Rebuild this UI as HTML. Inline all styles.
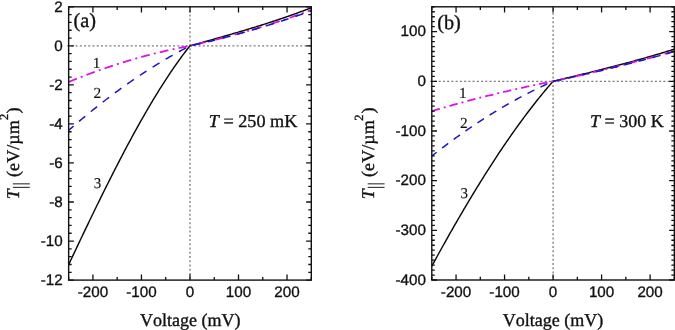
<!DOCTYPE html>
<html><head><meta charset="utf-8"><style>
html,body{margin:0;padding:0;background:#fff;}
svg{display:block;will-change:transform;opacity:0.999}
.ax{fill:none;stroke:#111;stroke-width:1.4}
.tk{fill:none;stroke:#111;stroke-width:1.3}
.dot{stroke:#7a7a7a;stroke-width:1.3;stroke-dasharray:2 2.24;fill:none}
.c1{fill:none;stroke:#dc12e0;stroke-width:1.8;stroke-dasharray:8.8 4.2 2 4.2;stroke-linejoin:round}
.c2{fill:none;stroke:#1c14c4;stroke-width:1.5;stroke-dasharray:8 7.25;stroke-dashoffset:1.5;stroke-linejoin:round}
.c1.b{stroke-dasharray:8.4 4.05 1.95 4.05}
.c2.b{stroke-dasharray:7.7 6.8;stroke-dashoffset:1.5}
.c3{fill:none;stroke:#0a0a0a;stroke-width:1.45;stroke-linejoin:round}
text{stroke:#111;stroke-width:0.35px;font-kerning:none;text-rendering:geometricPrecision}
.tl{font-family:"Liberation Sans",sans-serif;font-size:15.2px;fill:#111}
.lb{font-family:"Liberation Serif",serif;font-size:18px;fill:#111}
.nm{font-family:"Liberation Serif",serif;font-size:15.3px;fill:#111;stroke-width:0.15px}
.pl{font-family:"Liberation Serif",serif;font-size:20.3px;fill:#111}
</style></head><body>
<svg width="675" height="330" viewBox="0 0 675 330">
<rect width="675" height="330" fill="#fff"/>
<line x1="67.05" y1="45.84" x2="311.30" y2="45.84" class="dot"/>
<line x1="189.98" y1="6.80" x2="189.98" y2="280.10" class="dot" stroke-dashoffset="0.9"/>
<polyline points="68.65,264.67 69.62,262.61 70.59,260.55 71.56,258.49 72.53,256.43 73.50,254.38 74.47,252.32 75.44,250.27 76.41,248.22 77.39,246.17 78.36,244.12 79.33,242.08 80.30,240.04 81.27,238.00 82.24,235.96 83.21,233.93 84.18,231.90 85.15,229.87 86.12,227.85 87.09,225.82 88.06,223.81 89.03,221.79 90.00,219.78 90.97,217.77 91.94,215.76 92.92,213.76 93.89,211.76 94.86,209.76 95.83,207.77 96.80,205.78 97.77,203.80 98.74,201.82 99.71,199.84 100.68,197.87 101.65,195.91 102.62,193.94 103.59,191.98 104.56,190.03 105.53,188.08 106.50,186.14 107.47,184.20 108.44,182.26 109.42,180.33 110.39,178.40 111.36,176.48 112.33,174.57 113.30,172.66 114.27,170.76 115.24,168.86 116.21,166.96 117.18,165.08 118.15,163.19 119.12,161.32 120.09,159.45 121.06,157.58 122.03,155.73 123.00,153.87 123.97,152.03 124.94,150.19 125.92,148.36 126.89,146.53 127.86,144.71 128.83,142.90 129.80,141.09 130.77,139.29 131.74,137.50 132.71,135.71 133.68,133.93 134.65,132.16 135.62,130.40 136.59,128.64 137.56,126.89 138.53,125.15 139.50,123.41 140.47,121.69 141.44,119.97 142.42,118.26 143.39,116.55 144.36,114.86 145.33,113.17 146.30,111.49 147.27,109.82 148.24,108.16 149.21,106.51 150.18,104.86 151.15,103.23 152.12,101.60 153.09,99.98 154.06,98.37 155.03,96.77 156.00,95.18 156.97,93.59 157.95,92.02 158.92,90.46 159.89,88.90 160.86,87.36 161.83,85.82 162.80,84.29 163.77,82.78 164.74,81.27 165.71,79.78 166.68,78.29 167.65,76.81 168.62,75.35 169.59,73.89 170.56,72.45 171.53,71.01 172.50,69.59 173.47,68.17 174.45,66.77 175.42,65.38 176.39,63.99 177.36,62.62 178.33,61.26 179.30,59.92 180.27,58.58 181.24,57.25 182.21,55.94 183.18,54.64 184.15,53.34 185.12,52.06 186.09,50.80 187.06,49.54 188.03,48.30 189.00,47.06 189.98,45.84 190.95,45.57 191.92,45.30 192.89,45.03 193.86,44.77 194.83,44.50 195.80,44.23 196.77,43.96 197.74,43.69 198.71,43.42 199.68,43.15 200.65,42.88 201.62,42.61 202.59,42.34 203.56,42.07 204.53,41.79 205.50,41.52 206.48,41.25 207.45,40.98 208.42,40.71 209.39,40.44 210.36,40.16 211.33,39.89 212.30,39.62 213.27,39.35 214.24,39.07 215.21,38.80 216.18,38.52 217.15,38.25 218.12,37.98 219.09,37.70 220.06,37.42 221.03,37.15 222.00,36.87 222.98,36.60 223.95,36.32 224.92,36.04 225.89,35.76 226.86,35.48 227.83,35.20 228.80,34.92 229.77,34.64 230.74,34.36 231.71,34.08 232.68,33.80 233.65,33.52 234.62,33.23 235.59,32.95 236.56,32.66 237.53,32.38 238.50,32.09 239.48,31.81 240.45,31.52 241.42,31.23 242.39,30.94 243.36,30.65 244.33,30.36 245.30,30.07 246.27,29.78 247.24,29.49 248.21,29.19 249.18,28.90 250.15,28.60 251.12,28.31 252.09,28.01 253.06,27.71 254.03,27.42 255.01,27.12 255.98,26.82 256.95,26.52 257.92,26.21 258.89,25.91 259.86,25.61 260.83,25.30 261.80,25.00 262.77,24.69 263.74,24.38 264.71,24.07 265.68,23.76 266.65,23.45 267.62,23.14 268.59,22.83 269.56,22.51 270.53,22.20 271.51,21.88 272.48,21.56 273.45,21.24 274.42,20.92 275.39,20.60 276.36,20.28 277.33,19.96 278.30,19.63 279.27,19.31 280.24,18.98 281.21,18.65 282.18,18.32 283.15,17.99 284.12,17.66 285.09,17.33 286.06,16.99 287.03,16.65 288.01,16.32 288.98,15.98 289.95,15.64 290.92,15.30 291.89,14.95 292.86,14.61 293.83,14.26 294.80,13.92 295.77,13.57 296.74,13.22 297.71,12.86 298.68,12.51 299.65,12.16 300.62,11.80 301.59,11.44 302.56,11.08 303.54,10.72 304.51,10.36 305.48,10.00 306.45,9.63 307.42,9.26 308.39,8.89 309.36,8.52 310.33,8.15 311.30,7.78" class="c3"/>
<polyline points="68.65,81.96 69.62,81.56 70.59,81.17 71.56,80.77 72.53,80.38 73.50,79.99 74.47,79.60 75.44,79.21 76.41,78.83 77.39,78.44 78.36,78.06 79.33,77.68 80.30,77.30 81.27,76.93 82.24,76.55 83.21,76.18 84.18,75.81 85.15,75.44 86.12,75.07 87.09,74.70 88.06,74.34 89.03,73.98 90.00,73.62 90.97,73.26 91.94,72.90 92.92,72.54 93.89,72.19 94.86,71.84 95.83,71.49 96.80,71.14 97.77,70.79 98.74,70.45 99.71,70.10 100.68,69.76 101.65,69.42 102.62,69.08 103.59,68.75 104.56,68.41 105.53,68.08 106.50,67.75 107.47,67.42 108.44,67.09 109.42,66.77 110.39,66.44 111.36,66.12 112.33,65.80 113.30,65.48 114.27,65.17 115.24,64.85 116.21,64.54 117.18,64.22 118.15,63.91 119.12,63.61 120.09,63.30 121.06,63.00 122.03,62.69 123.00,62.39 123.97,62.09 124.94,61.79 125.92,61.50 126.89,61.20 127.86,60.91 128.83,60.62 129.80,60.33 130.77,60.04 131.74,59.76 132.71,59.48 133.68,59.19 134.65,58.91 135.62,58.63 136.59,58.36 137.56,58.08 138.53,57.81 139.50,57.54 140.47,57.27 141.44,57.00 142.42,56.74 143.39,56.47 144.36,56.21 145.33,55.95 146.30,55.69 147.27,55.43 148.24,55.18 149.21,54.92 150.18,54.67 151.15,54.42 152.12,54.17 153.09,53.92 154.06,53.68 155.03,53.43 156.00,53.19 156.97,52.95 157.95,52.72 158.92,52.48 159.89,52.24 160.86,52.01 161.83,51.78 162.80,51.55 163.77,51.32 164.74,51.10 165.71,50.87 166.68,50.65 167.65,50.43 168.62,50.21 169.59,50.00 170.56,49.78 171.53,49.57 172.50,49.35 173.47,49.14 174.45,48.94 175.42,48.73 176.39,48.53 177.36,48.32 178.33,48.12 179.30,47.92 180.27,47.72 181.24,47.53 182.21,47.33 183.18,47.14 184.15,46.95 185.12,46.76 186.09,46.57 187.06,46.39 188.03,46.21 189.00,46.02 189.98,45.84 190.95,45.63 191.92,45.41 192.89,45.19 193.86,44.97 194.83,44.75 195.80,44.52 196.77,44.30 197.74,44.07 198.71,43.85 199.68,43.62 200.65,43.39 201.62,43.16 202.59,42.93 203.56,42.70 204.53,42.47 205.50,42.23 206.48,42.00 207.45,41.76 208.42,41.53 209.39,41.29 210.36,41.05 211.33,40.81 212.30,40.57 213.27,40.32 214.24,40.08 215.21,39.83 216.18,39.59 217.15,39.34 218.12,39.09 219.09,38.84 220.06,38.59 221.03,38.34 222.00,38.09 222.98,37.83 223.95,37.58 224.92,37.32 225.89,37.07 226.86,36.81 227.83,36.55 228.80,36.29 229.77,36.03 230.74,35.76 231.71,35.50 232.68,35.24 233.65,34.97 234.62,34.70 235.59,34.43 236.56,34.16 237.53,33.89 238.50,33.62 239.48,33.35 240.45,33.08 241.42,32.80 242.39,32.53 243.36,32.25 244.33,31.97 245.30,31.69 246.27,31.41 247.24,31.13 248.21,30.85 249.18,30.56 250.15,30.28 251.12,29.99 252.09,29.70 253.06,29.42 254.03,29.13 255.01,28.84 255.98,28.54 256.95,28.25 257.92,27.96 258.89,27.66 259.86,27.37 260.83,27.07 261.80,26.77 262.77,26.47 263.74,26.17 264.71,25.87 265.68,25.57 266.65,25.26 267.62,24.96 268.59,24.65 269.56,24.35 270.53,24.04 271.51,23.73 272.48,23.42 273.45,23.11 274.42,22.79 275.39,22.48 276.36,22.17 277.33,21.85 278.30,21.53 279.27,21.22 280.24,20.90 281.21,20.58 282.18,20.25 283.15,19.93 284.12,19.61 285.09,19.28 286.06,18.96 287.03,18.63 288.01,18.30 288.98,17.97 289.95,17.64 290.92,17.31 291.89,16.98 292.86,16.64 293.83,16.31 294.80,15.97 295.77,15.64 296.74,15.30 297.71,14.96 298.68,14.62 299.65,14.28 300.62,13.94 301.59,13.59 302.56,13.25 303.54,12.90 304.51,12.55 305.48,12.21 306.45,11.86 307.42,11.51 308.39,11.16 309.36,10.80 310.33,10.45 311.30,10.09" class="c1"/>
<polyline points="68.65,130.37 69.62,129.52 70.59,128.67 71.56,127.83 72.53,126.98 73.50,126.14 74.47,125.31 75.44,124.47 76.41,123.64 77.39,122.81 78.36,121.98 79.33,121.16 80.30,120.34 81.27,119.52 82.24,118.71 83.21,117.90 84.18,117.09 85.15,116.28 86.12,115.48 87.09,114.68 88.06,113.88 89.03,113.09 90.00,112.29 90.97,111.51 91.94,110.72 92.92,109.94 93.89,109.15 94.86,108.38 95.83,107.60 96.80,106.83 97.77,106.06 98.74,105.29 99.71,104.53 100.68,103.77 101.65,103.01 102.62,102.26 103.59,101.50 104.56,100.75 105.53,100.01 106.50,99.26 107.47,98.52 108.44,97.78 109.42,97.05 110.39,96.32 111.36,95.59 112.33,94.86 113.30,94.13 114.27,93.41 115.24,92.69 116.21,91.98 117.18,91.27 118.15,90.56 119.12,89.85 120.09,89.14 121.06,88.44 122.03,87.74 123.00,87.05 123.97,86.35 124.94,85.66 125.92,84.98 126.89,84.29 127.86,83.61 128.83,82.93 129.80,82.25 130.77,81.58 131.74,80.91 132.71,80.24 133.68,79.58 134.65,78.92 135.62,78.26 136.59,77.60 137.56,76.95 138.53,76.30 139.50,75.65 140.47,75.00 141.44,74.36 142.42,73.72 143.39,73.08 144.36,72.45 145.33,71.82 146.30,71.19 147.27,70.57 148.24,69.94 149.21,69.32 150.18,68.71 151.15,68.09 152.12,67.48 153.09,66.87 154.06,66.27 155.03,65.66 156.00,65.06 156.97,64.47 157.95,63.87 158.92,63.28 159.89,62.69 160.86,62.11 161.83,61.52 162.80,60.94 163.77,60.37 164.74,59.79 165.71,59.22 166.68,58.65 167.65,58.08 168.62,57.52 169.59,56.96 170.56,56.40 171.53,55.85 172.50,55.30 173.47,54.75 174.45,54.20 175.42,53.66 176.39,53.12 177.36,52.58 178.33,52.04 179.30,51.51 180.27,50.98 181.24,50.45 182.21,49.93 183.18,49.41 184.15,48.89 185.12,48.38 186.09,47.86 187.06,47.35 188.03,46.85 189.00,46.34 189.98,45.84 190.95,45.63 191.92,45.42 192.89,45.21 193.86,44.99 194.83,44.77 195.80,44.56 196.77,44.34 197.74,44.12 198.71,43.90 199.68,43.68 200.65,43.46 201.62,43.23 202.59,43.01 203.56,42.78 204.53,42.56 205.50,42.33 206.48,42.10 207.45,41.87 208.42,41.64 209.39,41.40 210.36,41.17 211.33,40.94 212.30,40.70 213.27,40.46 214.24,40.23 215.21,39.99 216.18,39.75 217.15,39.50 218.12,39.26 219.09,39.02 220.06,38.77 221.03,38.53 222.00,38.28 222.98,38.03 223.95,37.78 224.92,37.53 225.89,37.28 226.86,37.03 227.83,36.78 228.80,36.52 229.77,36.27 230.74,36.01 231.71,35.75 232.68,35.49 233.65,35.23 234.62,34.97 235.59,34.71 236.56,34.45 237.53,34.18 238.50,33.92 239.48,33.65 240.45,33.38 241.42,33.11 242.39,32.84 243.36,32.57 244.33,32.30 245.30,32.02 246.27,31.75 247.24,31.47 248.21,31.20 249.18,30.92 250.15,30.64 251.12,30.36 252.09,30.08 253.06,29.80 254.03,29.51 255.01,29.23 255.98,28.94 256.95,28.66 257.92,28.37 258.89,28.08 259.86,27.79 260.83,27.50 261.80,27.21 262.77,26.91 263.74,26.62 264.71,26.32 265.68,26.02 266.65,25.73 267.62,25.43 268.59,25.13 269.56,24.83 270.53,24.52 271.51,24.22 272.48,23.92 273.45,23.61 274.42,23.30 275.39,23.00 276.36,22.69 277.33,22.38 278.30,22.07 279.27,21.75 280.24,21.44 281.21,21.13 282.18,20.81 283.15,20.49 284.12,20.18 285.09,19.86 286.06,19.54 287.03,19.22 288.01,18.89 288.98,18.57 289.95,18.25 290.92,17.92 291.89,17.59 292.86,17.27 293.83,16.94 294.80,16.61 295.77,16.28 296.74,15.94 297.71,15.61 298.68,15.28 299.65,14.94 300.62,14.60 301.59,14.27 302.56,13.93 303.54,13.59 304.51,13.25 305.48,12.90 306.45,12.56 307.42,12.22 308.39,11.87 309.36,11.52 310.33,11.18 311.30,10.83" class="c2"/>
<rect x="68.65" y="6.80" width="242.65" height="273.30" class="ax"/>
<path d="M68.65 280.10v-3.2M68.65 6.80v3.2M92.92 280.10v-5.6M92.92 6.80v5.6M117.18 280.10v-3.2M117.18 6.80v3.2M141.44 280.10v-5.6M141.44 6.80v5.6M165.71 280.10v-3.2M165.71 6.80v3.2M189.98 280.10v-5.6M189.98 6.80v5.6M214.24 280.10v-3.2M214.24 6.80v3.2M238.50 280.10v-5.6M238.50 6.80v5.6M262.77 280.10v-3.2M262.77 6.80v3.2M287.03 280.10v-5.6M287.03 6.80v5.6M311.30 280.10v-3.2M311.30 6.80v3.2M68.65 280.10h5.2M311.30 280.10h-5.2M68.65 272.29h3.0M311.30 272.29h-3.0M68.65 264.48h3.0M311.30 264.48h-3.0M68.65 256.67h3.0M311.30 256.67h-3.0M68.65 248.87h3.0M311.30 248.87h-3.0M68.65 241.06h5.2M311.30 241.06h-5.2M68.65 233.25h3.0M311.30 233.25h-3.0M68.65 225.44h3.0M311.30 225.44h-3.0M68.65 217.63h3.0M311.30 217.63h-3.0M68.65 209.82h3.0M311.30 209.82h-3.0M68.65 202.01h5.2M311.30 202.01h-5.2M68.65 194.21h3.0M311.30 194.21h-3.0M68.65 186.40h3.0M311.30 186.40h-3.0M68.65 178.59h3.0M311.30 178.59h-3.0M68.65 170.78h3.0M311.30 170.78h-3.0M68.65 162.97h5.2M311.30 162.97h-5.2M68.65 155.16h3.0M311.30 155.16h-3.0M68.65 147.35h3.0M311.30 147.35h-3.0M68.65 139.55h3.0M311.30 139.55h-3.0M68.65 131.74h3.0M311.30 131.74h-3.0M68.65 123.93h5.2M311.30 123.93h-5.2M68.65 116.12h3.0M311.30 116.12h-3.0M68.65 108.31h3.0M311.30 108.31h-3.0M68.65 100.50h3.0M311.30 100.50h-3.0M68.65 92.69h3.0M311.30 92.69h-3.0M68.65 84.89h5.2M311.30 84.89h-5.2M68.65 77.08h3.0M311.30 77.08h-3.0M68.65 69.27h3.0M311.30 69.27h-3.0M68.65 61.46h3.0M311.30 61.46h-3.0M68.65 53.65h3.0M311.30 53.65h-3.0M68.65 45.84h5.2M311.30 45.84h-5.2M68.65 38.03h3.0M311.30 38.03h-3.0M68.65 30.23h3.0M311.30 30.23h-3.0M68.65 22.42h3.0M311.30 22.42h-3.0M68.65 14.61h3.0M311.30 14.61h-3.0M68.65 6.80h5.2M311.30 6.80h-5.2" class="tk"/>
<text x="92.92" y="297.40" class="tl" text-anchor="middle">-200</text>
<text x="141.44" y="297.40" class="tl" text-anchor="middle">-100</text>
<text x="189.98" y="297.40" class="tl" text-anchor="middle">0</text>
<text x="238.50" y="297.40" class="tl" text-anchor="middle">100</text>
<text x="287.03" y="297.40" class="tl" text-anchor="middle">200</text>
<text x="62.75" y="11.50" class="tl" text-anchor="end">2</text>
<text x="62.75" y="50.54" class="tl" text-anchor="end">0</text>
<text x="62.75" y="89.59" class="tl" text-anchor="end">-2</text>
<text x="62.75" y="128.63" class="tl" text-anchor="end">-4</text>
<text x="62.75" y="167.67" class="tl" text-anchor="end">-6</text>
<text x="62.75" y="206.71" class="tl" text-anchor="end">-8</text>
<text x="62.75" y="245.76" class="tl" text-anchor="end">-10</text>
<text x="62.75" y="284.80" class="tl" text-anchor="end">-12</text>
<line x1="430.20" y1="81.31" x2="674.35" y2="81.31" class="dot"/>
<line x1="553.08" y1="6.80" x2="553.08" y2="280.00" class="dot" stroke-dashoffset="2.42"/>
<polyline points="431.80,266.14 432.77,264.36 433.74,262.58 434.71,260.81 435.68,259.04 436.65,257.27 437.62,255.51 438.59,253.75 439.56,251.99 440.53,250.24 441.50,248.50 442.47,246.75 443.44,245.01 444.41,243.28 445.38,241.55 446.35,239.82 447.32,238.10 448.29,236.38 449.26,234.67 450.23,232.96 451.20,231.25 452.17,229.55 453.14,227.85 454.11,226.16 455.08,224.47 456.06,222.78 457.03,221.11 458.00,219.43 458.97,217.76 459.94,216.09 460.91,214.43 461.88,212.77 462.85,211.12 463.82,209.47 464.79,207.83 465.76,206.19 466.73,204.55 467.70,202.92 468.67,201.30 469.64,199.68 470.61,198.06 471.58,196.45 472.55,194.85 473.52,193.25 474.49,191.65 475.46,190.06 476.43,188.47 477.40,186.89 478.37,185.32 479.34,183.75 480.31,182.18 481.28,180.62 482.25,179.06 483.22,177.51 484.19,175.97 485.16,174.43 486.13,172.89 487.10,171.36 488.07,169.84 489.04,168.32 490.01,166.81 490.98,165.30 491.95,163.80 492.92,162.30 493.89,160.81 494.86,159.32 495.83,157.84 496.80,156.36 497.77,154.89 498.74,153.43 499.71,151.97 500.68,150.52 501.65,149.07 502.62,147.63 503.59,146.20 504.56,144.77 505.54,143.34 506.51,141.93 507.48,140.51 508.45,139.11 509.42,137.71 510.39,136.31 511.36,134.92 512.33,133.54 513.30,132.17 514.27,130.80 515.24,129.43 516.21,128.07 517.18,126.72 518.15,125.38 519.12,124.04 520.09,122.71 521.06,121.38 522.03,120.06 523.00,118.74 523.97,117.44 524.94,116.14 525.91,114.84 526.88,113.55 527.85,112.27 528.82,110.99 529.79,109.73 530.76,108.46 531.73,107.21 532.70,105.96 533.67,104.72 534.64,103.48 535.61,102.25 536.58,101.03 537.55,99.81 538.52,98.61 539.49,97.40 540.46,96.21 541.43,95.02 542.40,93.84 543.37,92.66 544.34,91.50 545.31,90.34 546.28,89.18 547.25,88.04 548.22,86.90 549.19,85.77 550.16,84.64 551.13,83.52 552.10,82.41 553.08,81.31 554.05,81.08 555.02,80.84 555.99,80.61 556.96,80.38 557.93,80.15 558.90,79.91 559.87,79.68 560.84,79.45 561.81,79.22 562.78,78.98 563.75,78.75 564.72,78.52 565.69,78.28 566.66,78.05 567.63,77.82 568.60,77.58 569.57,77.35 570.54,77.12 571.51,76.88 572.48,76.65 573.45,76.41 574.42,76.18 575.39,75.94 576.36,75.71 577.33,75.47 578.30,75.24 579.27,75.00 580.24,74.77 581.21,74.53 582.18,74.29 583.15,74.06 584.12,73.82 585.09,73.58 586.06,73.34 587.03,73.10 588.00,72.87 588.97,72.63 589.94,72.39 590.91,72.15 591.88,71.91 592.85,71.67 593.82,71.43 594.79,71.19 595.76,70.95 596.73,70.70 597.70,70.46 598.67,70.22 599.64,69.97 600.61,69.73 601.59,69.49 602.56,69.24 603.53,69.00 604.50,68.75 605.47,68.51 606.44,68.26 607.41,68.01 608.38,67.76 609.35,67.52 610.32,67.27 611.29,67.02 612.26,66.77 613.23,66.52 614.20,66.27 615.17,66.01 616.14,65.76 617.11,65.51 618.08,65.26 619.05,65.00 620.02,64.75 620.99,64.49 621.96,64.23 622.93,63.98 623.90,63.72 624.87,63.46 625.84,63.20 626.81,62.94 627.78,62.68 628.75,62.42 629.72,62.16 630.69,61.90 631.66,61.63 632.63,61.37 633.60,61.11 634.57,60.84 635.54,60.57 636.51,60.31 637.48,60.04 638.45,59.77 639.42,59.50 640.39,59.23 641.36,58.96 642.33,58.68 643.30,58.41 644.27,58.14 645.24,57.86 646.21,57.59 647.18,57.31 648.15,57.03 649.12,56.75 650.10,56.47 651.07,56.19 652.04,55.91 653.01,55.63 653.98,55.34 654.95,55.06 655.92,54.77 656.89,54.49 657.86,54.20 658.83,53.91 659.80,53.62 660.77,53.33 661.74,53.04 662.71,52.75 663.68,52.45 664.65,52.16 665.62,51.86 666.59,51.56 667.56,51.27 668.53,50.97 669.50,50.67 670.47,50.36 671.44,50.06 672.41,49.76 673.38,49.45 674.35,49.15" class="c3"/>
<polyline points="431.80,111.11 432.77,110.83 433.74,110.54 434.71,110.25 435.68,109.97 436.65,109.68 437.62,109.40 438.59,109.12 439.56,108.83 440.53,108.55 441.50,108.27 442.47,107.99 443.44,107.71 444.41,107.43 445.38,107.16 446.35,106.88 447.32,106.60 448.29,106.33 449.26,106.06 450.23,105.78 451.20,105.51 452.17,105.24 453.14,104.97 454.11,104.70 455.08,104.43 456.06,104.16 457.03,103.89 458.00,103.62 458.97,103.36 459.94,103.09 460.91,102.83 461.88,102.56 462.85,102.30 463.82,102.04 464.79,101.78 465.76,101.52 466.73,101.26 467.70,101.00 468.67,100.74 469.64,100.48 470.61,100.22 471.58,99.97 472.55,99.71 473.52,99.46 474.49,99.21 475.46,98.95 476.43,98.70 477.40,98.45 478.37,98.20 479.34,97.95 480.31,97.70 481.28,97.45 482.25,97.21 483.22,96.96 484.19,96.71 485.16,96.47 486.13,96.23 487.10,95.98 488.07,95.74 489.04,95.50 490.01,95.26 490.98,95.02 491.95,94.78 492.92,94.54 493.89,94.30 494.86,94.07 495.83,93.83 496.80,93.59 497.77,93.36 498.74,93.13 499.71,92.89 500.68,92.66 501.65,92.43 502.62,92.20 503.59,91.97 504.56,91.74 505.54,91.51 506.51,91.28 507.48,91.06 508.45,90.83 509.42,90.61 510.39,90.38 511.36,90.16 512.33,89.94 513.30,89.72 514.27,89.50 515.24,89.28 516.21,89.06 517.18,88.84 518.15,88.62 519.12,88.40 520.09,88.19 521.06,87.97 522.03,87.76 523.00,87.54 523.97,87.33 524.94,87.12 525.91,86.91 526.88,86.70 527.85,86.49 528.82,86.28 529.79,86.07 530.76,85.86 531.73,85.65 532.70,85.45 533.67,85.24 534.64,85.04 535.61,84.84 536.58,84.63 537.55,84.43 538.52,84.23 539.49,84.03 540.46,83.83 541.43,83.63 542.40,83.43 543.37,83.24 544.34,83.04 545.31,82.84 546.28,82.65 547.25,82.46 548.22,82.26 549.19,82.07 550.16,81.88 551.13,81.69 552.10,81.50 553.08,81.31 554.05,81.10 555.02,80.89 555.99,80.68 556.96,80.47 557.93,80.26 558.90,80.05 559.87,79.84 560.84,79.63 561.81,79.42 562.78,79.21 563.75,78.99 564.72,78.78 565.69,78.56 566.66,78.35 567.63,78.13 568.60,77.92 569.57,77.70 570.54,77.48 571.51,77.27 572.48,77.05 573.45,76.83 574.42,76.61 575.39,76.39 576.36,76.17 577.33,75.95 578.30,75.73 579.27,75.50 580.24,75.28 581.21,75.06 582.18,74.83 583.15,74.61 584.12,74.38 585.09,74.16 586.06,73.93 587.03,73.71 588.00,73.48 588.97,73.25 589.94,73.02 590.91,72.79 591.88,72.57 592.85,72.34 593.82,72.10 594.79,71.87 595.76,71.64 596.73,71.41 597.70,71.18 598.67,70.94 599.64,70.71 600.61,70.48 601.59,70.24 602.56,70.01 603.53,69.77 604.50,69.53 605.47,69.30 606.44,69.06 607.41,68.82 608.38,68.58 609.35,68.34 610.32,68.10 611.29,67.86 612.26,67.62 613.23,67.38 614.20,67.14 615.17,66.90 616.14,66.65 617.11,66.41 618.08,66.17 619.05,65.92 620.02,65.68 620.99,65.43 621.96,65.19 622.93,64.94 623.90,64.69 624.87,64.44 625.84,64.19 626.81,63.95 627.78,63.70 628.75,63.45 629.72,63.19 630.69,62.94 631.66,62.69 632.63,62.44 633.60,62.19 634.57,61.93 635.54,61.68 636.51,61.42 637.48,61.17 638.45,60.91 639.42,60.66 640.39,60.40 641.36,60.14 642.33,59.89 643.30,59.63 644.27,59.37 645.24,59.11 646.21,58.85 647.18,58.59 648.15,58.33 649.12,58.07 650.10,57.80 651.07,57.54 652.04,57.28 653.01,57.01 653.98,56.75 654.95,56.48 655.92,56.22 656.89,55.95 657.86,55.69 658.83,55.42 659.80,55.15 660.77,54.88 661.74,54.61 662.71,54.35 663.68,54.08 664.65,53.81 665.62,53.53 666.59,53.26 667.56,52.99 668.53,52.72 669.50,52.44 670.47,52.17 671.44,51.90 672.41,51.62 673.38,51.35 674.35,51.07" class="c1 b"/>
<polyline points="431.80,156.07 432.77,155.30 433.74,154.53 434.71,153.77 435.68,153.01 436.65,152.26 437.62,151.50 438.59,150.75 439.56,150.00 440.53,149.26 441.50,148.51 442.47,147.77 443.44,147.04 444.41,146.30 445.38,145.57 446.35,144.84 447.32,144.11 448.29,143.39 449.26,142.67 450.23,141.95 451.20,141.23 452.17,140.52 453.14,139.81 454.11,139.10 455.08,138.40 456.06,137.70 457.03,137.00 458.00,136.30 458.97,135.61 459.94,134.92 460.91,134.23 461.88,133.54 462.85,132.86 463.82,132.18 464.79,131.50 465.76,130.83 466.73,130.16 467.70,129.49 468.67,128.82 469.64,128.16 470.61,127.50 471.58,126.84 472.55,126.18 473.52,125.53 474.49,124.88 475.46,124.23 476.43,123.59 477.40,122.95 478.37,122.31 479.34,121.67 480.31,121.04 481.28,120.41 482.25,119.78 483.22,119.15 484.19,118.53 485.16,117.91 486.13,117.29 487.10,116.68 488.07,116.07 489.04,115.46 490.01,114.85 490.98,114.25 491.95,113.65 492.92,113.05 493.89,112.45 494.86,111.86 495.83,111.27 496.80,110.68 497.77,110.10 498.74,109.52 499.71,108.94 500.68,108.36 501.65,107.79 502.62,107.22 503.59,106.65 504.56,106.09 505.54,105.52 506.51,104.96 507.48,104.41 508.45,103.85 509.42,103.30 510.39,102.75 511.36,102.21 512.33,101.66 513.30,101.12 514.27,100.58 515.24,100.05 516.21,99.52 517.18,98.99 518.15,98.46 519.12,97.94 520.09,97.41 521.06,96.89 522.03,96.38 523.00,95.87 523.97,95.35 524.94,94.85 525.91,94.34 526.88,93.84 527.85,93.34 528.82,92.84 529.79,92.35 530.76,91.86 531.73,91.37 532.70,90.88 533.67,90.40 534.64,89.92 535.61,89.44 536.58,88.97 537.55,88.49 538.52,88.02 539.49,87.56 540.46,87.09 541.43,86.63 542.40,86.17 543.37,85.72 544.34,85.26 545.31,84.81 546.28,84.37 547.25,83.92 548.22,83.48 549.19,83.04 550.16,82.60 551.13,82.17 552.10,81.74 553.08,81.31 554.05,81.11 555.02,80.90 555.99,80.70 556.96,80.49 557.93,80.28 558.90,80.08 559.87,79.87 560.84,79.66 561.81,79.45 562.78,79.25 563.75,79.04 564.72,78.83 565.69,78.62 566.66,78.40 567.63,78.19 568.60,77.98 569.57,77.77 570.54,77.55 571.51,77.34 572.48,77.13 573.45,76.91 574.42,76.70 575.39,76.48 576.36,76.26 577.33,76.05 578.30,75.83 579.27,75.61 580.24,75.39 581.21,75.17 582.18,74.95 583.15,74.73 584.12,74.51 585.09,74.29 586.06,74.07 587.03,73.85 588.00,73.62 588.97,73.40 589.94,73.17 590.91,72.95 591.88,72.72 592.85,72.50 593.82,72.27 594.79,72.04 595.76,71.82 596.73,71.59 597.70,71.36 598.67,71.13 599.64,70.90 600.61,70.67 601.59,70.44 602.56,70.21 603.53,69.98 604.50,69.74 605.47,69.51 606.44,69.28 607.41,69.04 608.38,68.81 609.35,68.57 610.32,68.34 611.29,68.10 612.26,67.87 613.23,67.63 614.20,67.39 615.17,67.15 616.14,66.91 617.11,66.67 618.08,66.43 619.05,66.19 620.02,65.95 620.99,65.71 621.96,65.47 622.93,65.22 623.90,64.98 624.87,64.74 625.84,64.49 626.81,64.25 627.78,64.00 628.75,63.76 629.72,63.51 630.69,63.26 631.66,63.01 632.63,62.77 633.60,62.52 634.57,62.27 635.54,62.02 636.51,61.77 637.48,61.52 638.45,61.26 639.42,61.01 640.39,60.76 641.36,60.51 642.33,60.25 643.30,60.00 644.27,59.74 645.24,59.49 646.21,59.23 647.18,58.97 648.15,58.72 649.12,58.46 650.10,58.20 651.07,57.94 652.04,57.68 653.01,57.42 653.98,57.16 654.95,56.90 655.92,56.64 656.89,56.38 657.86,56.12 658.83,55.85 659.80,55.59 660.77,55.32 661.74,55.06 662.71,54.79 663.68,54.53 664.65,54.26 665.62,54.00 666.59,53.73 667.56,53.46 668.53,53.19 669.50,52.92 670.47,52.65 671.44,52.38 672.41,52.11 673.38,51.84 674.35,51.57" class="c2 b"/>
<rect x="431.80" y="6.80" width="242.55" height="273.20" class="ax"/>
<path d="M431.80 280.00v-3.2M431.80 6.80v3.2M456.06 280.00v-5.6M456.06 6.80v5.6M480.31 280.00v-3.2M480.31 6.80v3.2M504.56 280.00v-5.6M504.56 6.80v5.6M528.82 280.00v-3.2M528.82 6.80v3.2M553.08 280.00v-5.6M553.08 6.80v5.6M577.33 280.00v-3.2M577.33 6.80v3.2M601.59 280.00v-5.6M601.59 6.80v5.6M625.84 280.00v-3.2M625.84 6.80v3.2M650.10 280.00v-5.6M650.10 6.80v5.6M674.35 280.00v-3.2M674.35 6.80v3.2M431.80 280.00h5.2M674.35 280.00h-5.2M431.80 275.03h3.0M674.35 275.03h-3.0M431.80 270.07h3.0M674.35 270.07h-3.0M431.80 265.10h3.0M674.35 265.10h-3.0M431.80 260.13h3.0M674.35 260.13h-3.0M431.80 255.16h3.0M674.35 255.16h-3.0M431.80 250.20h3.0M674.35 250.20h-3.0M431.80 245.23h3.0M674.35 245.23h-3.0M431.80 240.26h3.0M674.35 240.26h-3.0M431.80 235.29h3.0M674.35 235.29h-3.0M431.80 230.33h5.2M674.35 230.33h-5.2M431.80 225.36h3.0M674.35 225.36h-3.0M431.80 220.39h3.0M674.35 220.39h-3.0M431.80 215.43h3.0M674.35 215.43h-3.0M431.80 210.46h3.0M674.35 210.46h-3.0M431.80 205.49h3.0M674.35 205.49h-3.0M431.80 200.52h3.0M674.35 200.52h-3.0M431.80 195.56h3.0M674.35 195.56h-3.0M431.80 190.59h3.0M674.35 190.59h-3.0M431.80 185.62h3.0M674.35 185.62h-3.0M431.80 180.65h5.2M674.35 180.65h-5.2M431.80 175.69h3.0M674.35 175.69h-3.0M431.80 170.72h3.0M674.35 170.72h-3.0M431.80 165.75h3.0M674.35 165.75h-3.0M431.80 160.79h3.0M674.35 160.79h-3.0M431.80 155.82h3.0M674.35 155.82h-3.0M431.80 150.85h3.0M674.35 150.85h-3.0M431.80 145.88h3.0M674.35 145.88h-3.0M431.80 140.92h3.0M674.35 140.92h-3.0M431.80 135.95h3.0M674.35 135.95h-3.0M431.80 130.98h5.2M674.35 130.98h-5.2M431.80 126.01h3.0M674.35 126.01h-3.0M431.80 121.05h3.0M674.35 121.05h-3.0M431.80 116.08h3.0M674.35 116.08h-3.0M431.80 111.11h3.0M674.35 111.11h-3.0M431.80 106.15h3.0M674.35 106.15h-3.0M431.80 101.18h3.0M674.35 101.18h-3.0M431.80 96.21h3.0M674.35 96.21h-3.0M431.80 91.24h3.0M674.35 91.24h-3.0M431.80 86.28h3.0M674.35 86.28h-3.0M431.80 81.31h5.2M674.35 81.31h-5.2M431.80 76.34h3.0M674.35 76.34h-3.0M431.80 71.37h3.0M674.35 71.37h-3.0M431.80 66.41h3.0M674.35 66.41h-3.0M431.80 61.44h3.0M674.35 61.44h-3.0M431.80 56.47h3.0M674.35 56.47h-3.0M431.80 51.51h3.0M674.35 51.51h-3.0M431.80 46.54h3.0M674.35 46.54h-3.0M431.80 41.57h3.0M674.35 41.57h-3.0M431.80 36.60h3.0M674.35 36.60h-3.0M431.80 31.64h5.2M674.35 31.64h-5.2M431.80 26.67h3.0M674.35 26.67h-3.0M431.80 21.70h3.0M674.35 21.70h-3.0M431.80 16.73h3.0M674.35 16.73h-3.0M431.80 11.77h3.0M674.35 11.77h-3.0M431.80 6.80h3.0M674.35 6.80h-3.0" class="tk"/>
<text x="456.06" y="297.30" class="tl" text-anchor="middle">-200</text>
<text x="504.56" y="297.30" class="tl" text-anchor="middle">-100</text>
<text x="553.08" y="297.30" class="tl" text-anchor="middle">0</text>
<text x="601.59" y="297.30" class="tl" text-anchor="middle">100</text>
<text x="650.10" y="297.30" class="tl" text-anchor="middle">200</text>
<text x="425.90" y="36.34" class="tl" text-anchor="end">100</text>
<text x="425.90" y="86.01" class="tl" text-anchor="end">0</text>
<text x="425.90" y="135.68" class="tl" text-anchor="end">-100</text>
<text x="425.90" y="185.35" class="tl" text-anchor="end">-200</text>
<text x="425.90" y="235.03" class="tl" text-anchor="end">-300</text>
<text x="425.90" y="284.70" class="tl" text-anchor="end">-400</text>
<text x="73.6" y="26.6" class="pl">(a)</text>
<text x="437.2" y="28.5" class="pl">(b)</text>
<text x="208.8" y="127.4" class="lb" style="font-size:18.2px"><tspan font-style="italic">T</tspan> = 250 mK</text>
<text x="590.1" y="127.3" class="lb"><tspan font-style="italic">T</tspan> = 300 K</text>
<text x="140.0" y="325.8" class="lb">Voltage (mV)</text>
<text x="502.7" y="325.8" class="lb">Voltage (mV)</text>
<text x="92.7" y="68.2" class="nm">1</text>
<text x="93.5" y="98" class="nm">2</text>
<text x="93.7" y="188.2" class="nm" style="font-size:15px">3</text>
<text x="459.0" y="97.8" class="nm">1</text>
<text x="459.9" y="127.6" class="nm">2</text>
<text x="460.5" y="197.5" class="nm" style="font-size:15px">3</text>
<g transform="translate(18.80,199.20) rotate(-90)">
<text x="0" y="0" class="lb"><tspan font-style="italic">T</tspan></text>
<path d="M11.85 -5.9V11M15.35 -5.9V11" stroke="#111" stroke-width="0.95" fill="none"/>
<text x="22.2" y="0" class="lb" style="letter-spacing:0.08px">(eV/µm</text>
<text x="79.3" y="-10.4" class="lb" style="font-size:12.5px">2</text>
<text x="85.7" y="0" class="lb">)</text>
</g>
<g transform="translate(373.60,199.20) rotate(-90)">
<text x="0" y="0" class="lb"><tspan font-style="italic">T</tspan></text>
<path d="M11.85 -5.9V11M15.35 -5.9V11" stroke="#111" stroke-width="0.95" fill="none"/>
<text x="22.2" y="0" class="lb" style="letter-spacing:0.08px">(eV/µm</text>
<text x="78.4" y="-10.4" class="lb" style="font-size:12.5px">2</text>
<text x="85.7" y="0" class="lb">)</text>
</g>
</svg>
</body></html>
